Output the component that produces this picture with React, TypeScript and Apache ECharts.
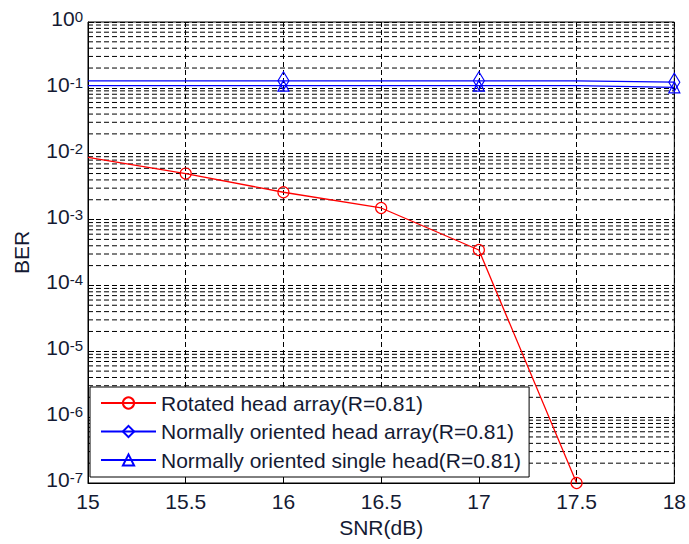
import React, { useEffect, useRef } from 'react';
import * as echarts from 'echarts';

// SNR grid (dB)
const snr = [15, 15.5, 16, 16.5, 17, 17.5, 18];

// Bit error rates per curve
const rotatedBer = [0.0088, 0.005, 0.0026, 0.0015, 0.000345, 1e-7];
const rotatedMarked = [false, true, true, true, true, true];
const arrayBer = [0.128, 0.128, 0.128, 0.128, 0.128, 0.128, 0.122];
const singleBer = [0.108, 0.108, 0.108, 0.108, 0.108, 0.108, 0.102];
const blueMarked = [false, false, true, false, true, false, true];

const seriesNames = [
  'Rotated head array(R=0.81)',
  'Normally oriented head array(R=0.81)',
  'Normally oriented single head(R=0.81)',
];

// log-axis minor grid: 2..9 within each decade
const decades = [-7, -6, -5, -4, -3, -2, -1];
const minorSteps = [2, 3, 4, 5, 6, 7, 8, 9];

const FONT = '"Liberation Sans", Arial, sans-serif';
const TEXT = '#141a33';
const GRID = '#000000';
const DASH = [5, 3];

function toPoints(ys: number[], marked: boolean[], symbol: string) {
  return ys.map((y, i) => ({
    value: [snr[i], y],
    symbol: marked[i] ? symbol : 'none',
  }));
}

export default function App() {
  const ref = useRef<HTMLDivElement>(null);

  useEffect(() => {
    if (!ref.current) return;
    const chart = echarts.init(ref.current, undefined, { renderer: 'svg' });

    const xMin = snr[0];
    const xMax = snr[snr.length - 1];
    const minorValues: number[][] = [];
    decades.forEach((d) =>
      minorSteps.forEach((m) => minorValues.push([xMin, m * Math.pow(10, d)]))
    );

    const hollow = (c: string) => ({
      color: 'rgba(255,255,255,0)',
      borderColor: c,
      borderWidth: 1.2,
    });

    chart.setOption({
      animation: false,
      backgroundColor: '#ffffff',
      textStyle: { fontFamily: FONT },
      grid: {
        left: 88,
        right: 12,
        top: 22,
        bottom: 61,
        show: true,
        borderColor: '#000',
        borderWidth: 1,
      },
      xAxis: {
        type: 'value',
        min: 15,
        max: 18,
        interval: 0.5,
        name: 'SNR(dB)',
        nameLocation: 'middle',
        nameGap: 32,
        nameTextStyle: { fontSize: 21, color: TEXT, fontFamily: FONT },
        axisLine: { show: true, lineStyle: { color: '#000', width: 1 } },
        axisTick: { show: true, inside: true, length: 6, lineStyle: { color: '#000' } },
        axisLabel: { fontSize: 21, color: TEXT, margin: 8, fontFamily: FONT },
        splitLine: { show: true, lineStyle: { type: DASH, color: GRID, width: 1 } },
      },
      yAxis: {
        type: 'log',
        logBase: 10,
        min: 1e-7,
        max: 1,
        splitNumber: 7,
        name: 'BER',
        nameLocation: 'middle',
        nameGap: 56,
        nameTextStyle: { fontSize: 21, color: TEXT, fontFamily: FONT },
        axisLine: { show: true, lineStyle: { color: '#000', width: 1 } },
        axisTick: { show: true, inside: true, length: 6, lineStyle: { color: '#000' } },
        axisLabel: {
          margin: 5,
          padding: [0, 0, 6, 0],
          formatter: (v: number) => {
            const e = Math.round(Math.log10(v));
            return '{b|10}{s|' + e + '}';
          },
          rich: {
            b: { fontSize: 21, color: TEXT, fontFamily: FONT, verticalAlign: 'bottom', lineHeight: 20 },
            s: {
              fontSize: 15,
              color: TEXT,
              fontFamily: FONT,
              verticalAlign: 'top',
              lineHeight: 14,
              padding: [0, 0, 14, 0],
            },
          },
        },
        splitLine: { show: true, lineStyle: { type: DASH, color: GRID, width: 1 } },
      },
      legend: {
        orient: 'vertical',
        left: 90,
        top: 387,
        padding: [5, 8, 6, 10],
        itemWidth: 55,
        itemHeight: 14,
        itemGap: 6.5,
        backgroundColor: '#ffffff',
        borderColor: '#000',
        borderWidth: 1,
        z: 20,
        textStyle: { fontSize: 21, color: TEXT, fontFamily: FONT, lineHeight: 22 },
        data: seriesNames,
      },
      series: [
        {
          // minor grid lines of the log axis
          type: 'custom',
          silent: true,
          z: 1,
          encode: { x: 0, y: 1 },
          data: minorValues,
          renderItem: (_params: any, api: any) => {
            const v = api.value(1);
            const p1 = api.coord([xMin, v]);
            const p2 = api.coord([xMax, v]);
            return {
              type: 'line',
              shape: { x1: p1[0], y1: p1[1], x2: p2[0], y2: p2[1] },
              style: { stroke: GRID, lineWidth: 1, lineDash: DASH },
            };
          },
        },
        {
          name: seriesNames[0],
          type: 'line',
          z: 3,
          symbol: 'circle',
          symbolSize: 11,
          color: '#ff0000',
          lineStyle: { color: '#ff0000', width: 1.3 },
          itemStyle: hollow('#ff0000'),
          data: toPoints(rotatedBer, rotatedMarked, 'circle'),
        },
        {
          name: seriesNames[1],
          type: 'line',
          z: 3,
          symbol: 'diamond',
          symbolSize: [11, 18],
          color: '#0000ff',
          lineStyle: { color: '#0000ff', width: 1.3 },
          itemStyle: hollow('#0000ff'),
          data: toPoints(arrayBer, blueMarked, 'diamond'),
        },
        {
          name: seriesNames[2],
          type: 'line',
          z: 3,
          symbol: 'triangle',
          symbolSize: 11,
          color: '#0000ff',
          lineStyle: { color: '#0000ff', width: 1.3 },
          itemStyle: hollow('#0000ff'),
          data: toPoints(singleBer, blueMarked, 'triangle'),
        },
      ],
    });

    return () => chart.dispose();
  }, []);

  return (
    <div
      ref={ref}
      style={{ position: 'fixed', left: 0, top: 0, width: 689, height: 544 }}
    />
  );
}
